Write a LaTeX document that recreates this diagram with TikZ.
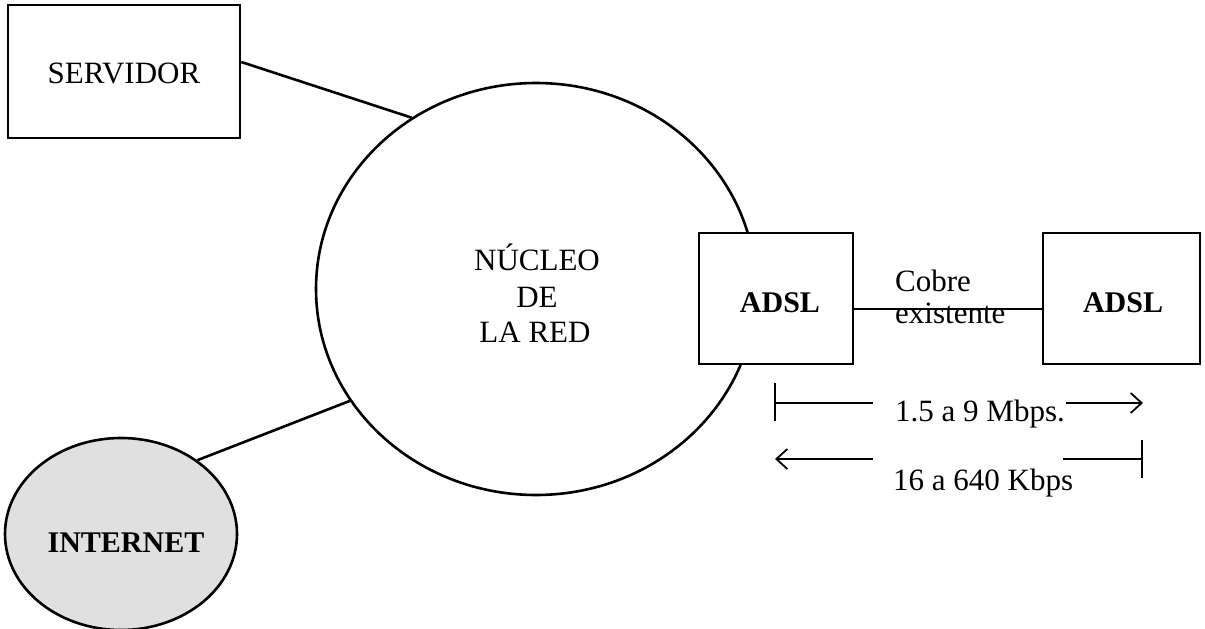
\documentclass[tikz,border=0pt]{standalone}
\usepackage{fontspec}
\setmainfont{Liberation Serif}
\usetikzlibrary{shapes.geometric,arrows.meta,calc}
\begin{document}
\begin{tikzpicture}[x=1pt,y=-1pt,
  thick line/.style={line width=2.6pt},
  box/.style={draw,thick line,rectangle,fill=white,inner sep=0pt},
  big/.style={font=\fontsize{31}{36}\selectfont,inner sep=0pt},
  bigb/.style={font=\fontsize{30}{36}\selectfont\bfseries,inner sep=0pt},
  rate/.style={line width=1.8pt},
  barb/.style={-{Straight Barb[length=11pt,width=20pt,line width=1.8pt]}}
]
\useasboundingbox (0,0) rectangle (1205,629);
% core ellipse
\node[draw,thick line,ellipse,minimum width=440pt,minimum height=412pt,inner sep=0pt] (core) at (536,289) {};
\node[big,anchor=base] (core1) at (537,270) {NÚCLEO};
\node[big,anchor=base] (core2) at (537,307) {DE};
\node[big,anchor=base] (core3) at (535,342) {LA RED};
% servidor
\node[box,minimum width=232pt,minimum height=133pt] (serv) at (124,71.5) {};
\node[big,anchor=base] (servtext) at (124,83) {SERVIDOR};
% internet
\node[draw,thick line,ellipse,fill=black!12,minimum width=232pt,minimum height=192pt,inner sep=0pt] (inet) at (121,534) {};
\node[bigb,anchor=base] (inettext) at (126,552) {INTERNET};
% adsl boxes
\node[box,minimum width=154pt,minimum height=131pt] (adslA) at (776,298.5) {};
\node[bigb,anchor=base] (adslAt) at (780,312) {ADSL};
\node[box,minimum width=157pt,minimum height=131pt] (adslB) at (1121.5,298.5) {};
\node[bigb,anchor=base] (adslBt) at (1123,312) {ADSL};
% connectors
\draw[thick line] ([yshift=9.5pt]serv.east) -- (core.126.4);
\draw[thick line] (inet.44) -- (core.211.6);
\draw[line width=2.2pt] ([yshift=-10.5pt]adslA.east) -- ([yshift=-10.5pt]adslB.west);
% cobre labels
\node[big,anchor=base west] (cobre) at (895,291) {Cobre};
\node[big,anchor=base west] (exist) at (895,323) {existente};
% rates
\node[big,anchor=base west] (down) at (895,421) {1.5 a 9 Mbps.};
\node[big,anchor=base west] (up) at (893,490) {16 a 640 Kbps};
\coordinate (t1a) at (775,383);
\coordinate (t1b) at (775,421);
\coordinate (l1a) at (775,403);
\coordinate (l1b) at (873,403);
\coordinate (a1a) at (1066,403);
\coordinate (a1b) at (1143,403);
\draw[rate] (t1a) -- (t1b);
\draw[rate] (l1a) -- (l1b);
\draw[rate,barb] (a1a) -- (a1b);
\coordinate (a2a) at (873,459);
\coordinate (a2b) at (775,459);
\coordinate (l2a) at (1063,459);
\coordinate (l2b) at (1142,459);
\coordinate (t2a) at (1142,440);
\coordinate (t2b) at (1142,478);
\draw[rate,barb] (a2a) -- (a2b);
\draw[rate] (l2a) -- (l2b);
\draw[rate] (t2a) -- (t2b);
\end{tikzpicture}
\end{document}
